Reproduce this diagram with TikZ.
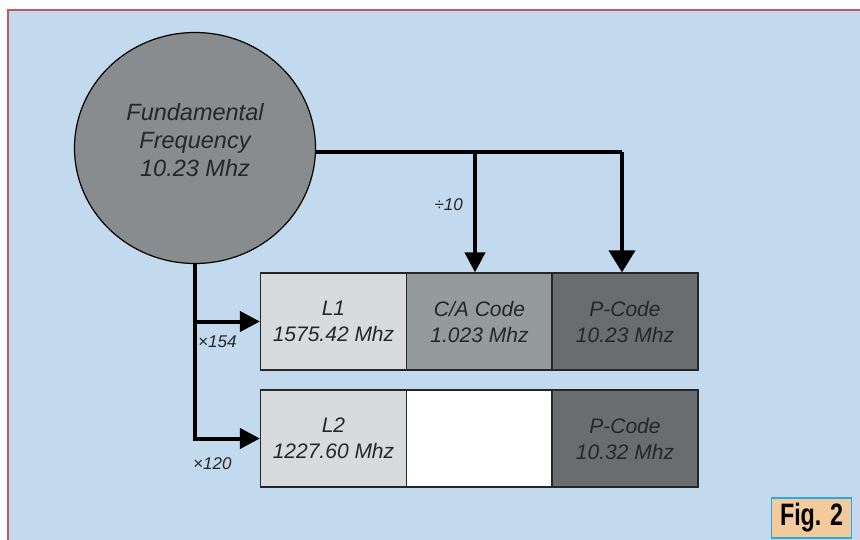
\documentclass[tikz,border=0pt]{standalone}
\usepackage{fontspec}
\setmainfont{Liberation Sans}
\usetikzlibrary{arrows.meta,shapes.geometric}
\definecolor{sky}{HTML}{C3D9ED}
\definecolor{frame}{HTML}{C5585A}
\definecolor{disc}{HTML}{898C8F}
\definecolor{pale}{HTML}{D8DBDE}
\definecolor{mid}{HTML}{959A9D}
\definecolor{dark}{HTML}{6A6D70}
\definecolor{ink}{HTML}{262626}
\definecolor{peach}{HTML}{F3CA9B}
\definecolor{cyan}{HTML}{2BA9E0}
\tikzset{
 wire/.style={line width=4pt},
 feed/.style={wire,-{Triangle[length=20pt,width=20pt]}},
 bigfeed/.style={wire,-{Triangle[length=22pt,width=26pt]}},
 source/.style={ellipse,draw,line width=1.2pt,fill=disc,minimum width=241pt,minimum height=231pt,inner sep=0},
 sourcetext/.style={align=center,text=ink,inner sep=0,font=\fontsize{23.5}{28}\selectfont\itshape},
 band/.style={rectangle,draw=black!85,line width=1.2pt,minimum width=146pt,minimum height=97pt,inner sep=0,align=center,text=ink,font=\fontsize{21}{26}\selectfont\itshape},
 ratio/.style={text=ink,font=\fontsize{17}{20}\selectfont\itshape,inner sep=0}
}
\begin{document}
\begin{tikzpicture}[x=1pt,y=-1pt]
\path[use as bounding box] (0,0) rectangle (860,540);
\fill[sky] (8,10) rectangle (860,540);
\draw[frame,line width=2pt] (8,540) -- (8,10) -- (860,10);
% source
\node[source] (freq) at (195,148) {};
\node[sourcetext] (freqtext) at ([yshift=8pt]freq.center) {Fundamental\\Frequency\\10.23 Mhz};
% first row
\node[band,fill=pale] (l1) at (333.5,321.5) {L1\\1575.42 Mhz};
\node[band,fill=mid] (ca) at (479.5,321.5) {C/A Code\\1.023 Mhz};
\node[band,fill=dark] (p1) at (625,321.5) {P-Code\\10.23 Mhz};
% second row
\node[band,fill=pale] (l2) at (333.5,438.5) {L2\\1227.60 Mhz};
\node[band,fill=white] (gap) at (479.5,438.5) {};
\node[band,fill=dark] (p2) at (625,438.5) {P-Code\\10.32 Mhz};
% connectors
\coordinate (top) at (622,152);
\coordinate (tap) at (475,152);
\draw[wire] (freq.east |- top) -- (top);
\draw[feed] (tap) -- (tap |- ca.north);
\draw[bigfeed] (top) -- (top |- p1.north);
\draw[feed] (freq.south) |- (l2.west);
\draw[feed] (freq.south |- l1.west) -- (l1.west);
\node[ratio,anchor=east] (div) at (463,205) {÷10};
\node[ratio,anchor=west] (mula) at (198,342) {×154};
\node[ratio,anchor=west] (mulb) at (193,464) {×120};
% label
\node[draw=cyan,line width=1.2pt,fill=peach,minimum width=80pt,minimum height=40pt,inner sep=0,font=\fontsize{31}{31}\selectfont\bfseries] (fig) at (811.5,518) {\scalebox{0.75}[1]{Fig. 2}};
\end{tikzpicture}
\end{document}
